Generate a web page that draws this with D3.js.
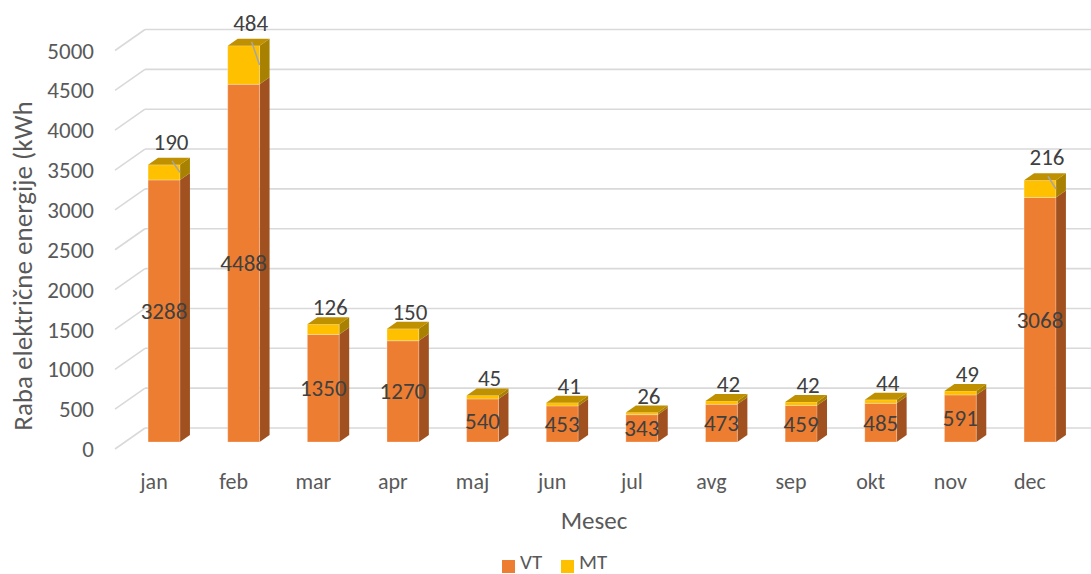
<!DOCTYPE html>
<html>
<head>
<meta charset="utf-8">
<script src="https://cdn.jsdelivr.net/npm/d3@7"></script>
<style>
  html, body { margin: 0; padding: 0; background: #ffffff; }
  svg { display: block; font-family: Carlito, Calibri, Lato, "Open Sans", sans-serif; }
</style>
</head>
<body>
<svg id="chart" width="1091" height="574"></svg>
<script>
// Monthly electricity use, high tariff (VT) and low tariff (MT)
const months = ["jan", "feb", "mar", "apr", "maj", "jun", "jul", "avg", "sep", "okt", "nov", "dec"];
const vtValues = [3288, 4488, 1350, 1270, 540, 453, 343, 473, 459, 485, 591, 3068];
const mtValues = [190, 484, 126, 150, 45, 41, 26, 42, 42, 44, 49, 216];
const yTicks = [0, 500, 1000, 1500, 2000, 2500, 3000, 3500, 4000, 4500, 5000];
const seriesNames = ["VT", "MT"];
// MT labels that were pulled upward and carry a leader line
const leaderMonths = ["jan", "feb", "dec"];

const W = 1091, H = 574;
const svg = d3.select("#chart");

// Oblique 3D projection: full depth of the plot box shifts by (DX, DY)
const DX = 30, DY = -21;
const depth = d => [DX * d, DY * d];
const barD0 = 1 / 3, barD1 = 2 / 3;

const x = d3.scaleBand()
  .domain(months)
  .range([114.2, 1069.8])
  .paddingInner(0.6)
  .paddingOuter(0.3);

const y = d3.scaleLinear().domain([0, 5000]).range([449, 50.5]);

const colors = {
  VT: { front: "#ED7D31", side: "#A1511F", top: "#C8682A" },
  MT: { front: "#FFC000", side: "#A98100", top: "#BF9000" }
};

const gridColor = "#D9D9D9";
const textGrey = "#595959";
const labelDark = "#404040";

// Walls: side-wall diagonals plus back-wall horizontals
const grid = svg.append("g");
yTicks.forEach(t => {
  const [bx, by] = depth(1);
  const x0 = 115, y0 = y(t);
  grid.append("line")
    .attr("x1", x0).attr("y1", y0)
    .attr("x2", x0 + bx).attr("y2", y0 + by)
    .attr("stroke", gridColor).attr("stroke-width", 1.6);
  grid.append("line")
    .attr("x1", x0 + bx).attr("y1", y0 + by)
    .attr("x2", W).attr("y2", y0 + by)
    .attr("stroke", gridColor).attr("stroke-width", 1.6);
});

// Y tick labels
svg.append("g").selectAll("text")
  .data(yTicks).join("text")
  .attr("x", 94).attr("y", d => y(d))
  .attr("dy", "0.35em")
  .attr("text-anchor", "end")
  .attr("font-size", 23)
  .attr("fill", textGrey)
  .text(d => d);

// Build stacked segments
const stackData = months.map((m, i) => ({ month: m, VT: vtValues[i], MT: mtValues[i] }));
const stacked = d3.stack().keys(seriesNames)(stackData);

const pts = arr => arr.map(p => p.join(",")).join(" ");

const bars = svg.append("g");
stacked.forEach(layer => {
  const key = layer.key;
  const isTop = key === seriesNames[seriesNames.length - 1];
  layer.forEach(seg => {
    const m = seg.data.month;
    const [fx, fy] = depth(barD0);
    const [bx, by] = depth(barD1);
    const xl = x(m) + fx, xr = x(m) + x.bandwidth() + fx;
    const yb = y(seg[0]) + fy, yt = y(seg[1]) + fy;
    const ox = bx - fx, oy = by - fy;
    const g = bars.append("g");
    // right side face
    g.append("polygon")
      .attr("points", pts([[xr, yb], [xr + ox, yb + oy], [xr + ox, yt + oy], [xr, yt]]))
      .attr("fill", colors[key].side);
    // front face
    g.append("polygon")
      .attr("points", pts([[xl, yb], [xr, yb], [xr, yt], [xl, yt]]))
      .attr("fill", colors[key].front)
      .attr("stroke", "rgba(255,255,255,0.35)").attr("stroke-width", 0.8);
    if (isTop) {
      g.append("polygon")
        .attr("points", pts([[xl, yt], [xr, yt], [xr + ox, yt + oy], [xl + ox, yt + oy]]))
        .attr("fill", colors[key].top);
    }
  });
});

// Value labels
const labels = svg.append("g").attr("font-size", 23).attr("fill", labelDark);
const [fx0, fy0] = depth(barD0);
const [bx0, by0] = depth(barD1);

stackData.forEach(d => {
  const cx = x(d.month) + x.bandwidth() / 2 + fx0;
  // VT label in the middle of its segment
  labels.append("text")
    .attr("x", cx).attr("y", y(d.VT / 2) + fy0)
    .attr("dy", "0.35em").attr("text-anchor", "middle")
    .text(d.VT);
  // MT label above the bar top
  const total = d.VT + d.MT;
  const topFront = y(total) + fy0;
  const topBack = y(total) + by0;
  const hasLeader = leaderMonths.includes(d.month);
  labels.append("text")
    .attr("x", cx + 7).attr("y", topBack - (hasLeader ? 16 : 10))
    .attr("dy", "0.35em").attr("text-anchor", "middle")
    .text(d.MT);
  if (hasLeader) {
    const xr = x(d.month) + x.bandwidth() + fx0;
    const mtMid = (y(d.VT) + y(total)) / 2 + fy0;
    svg.append("line")
      .attr("x1", cx + 8).attr("y1", topFront - 4)
      .attr("x2", xr).attr("y2", mtMid)
      .attr("stroke", "#A6A6A6").attr("stroke-width", 1.5);
  }
});

// Category labels
svg.append("g").selectAll("text")
  .data(months).join("text")
  .attr("x", d => x(d) + x.bandwidth() / 2)
  .attr("y", 481).attr("dy", "0.35em")
  .attr("text-anchor", "middle")
  .attr("font-size", 22)
  .attr("fill", textGrey)
  .text(d => d);

// Axis titles
svg.append("text")
  .attr("x", 594).attr("y", 520).attr("dy", "0.35em")
  .attr("text-anchor", "middle").attr("font-size", 25)
  .attr("fill", textGrey).text("Mesec");

svg.append("text")
  .attr("transform", "translate(23,266) rotate(-90)")
  .attr("dy", "0.35em")
  .attr("text-anchor", "middle").attr("font-size", 27)
  .attr("fill", textGrey).text("Raba električne energije (kWh");

// Legend
const legend = svg.append("g");
const legendItems = [
  { name: seriesNames[0], x: 502, color: colors.VT.front },
  { name: seriesNames[1], x: 561, color: colors.MT.front }
];
legendItems.forEach(it => {
  legend.append("rect")
    .attr("x", it.x).attr("y", 560).attr("width", 13).attr("height", 13)
    .attr("fill", it.color);
  legend.append("text")
    .attr("x", it.x + 18).attr("y", 562).attr("dy", "0.35em")
    .attr("font-size", 21).attr("fill", textGrey)
    .text(it.name);
});
</script>
</body>
</html>
